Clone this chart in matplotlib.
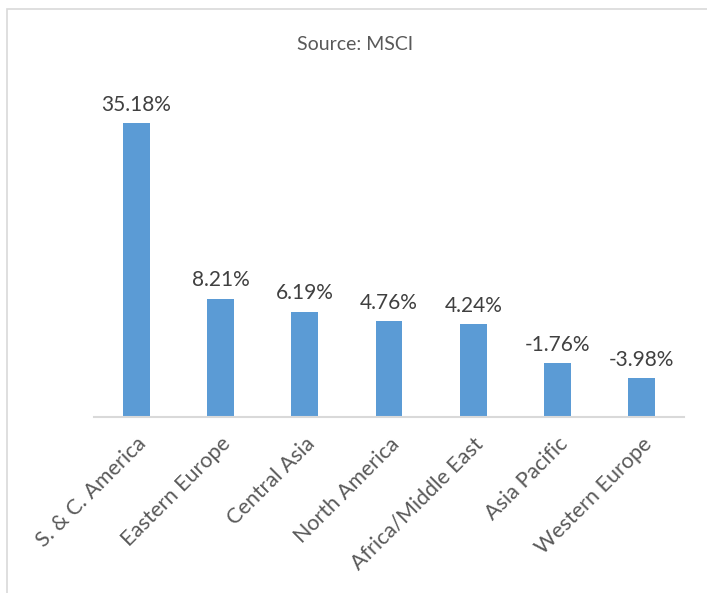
import matplotlib.pyplot as plt
import matplotlib.patches as mpatches
import numpy as np

regions = ["S. & C. America", "Eastern Europe", "Central Asia", "North America",
           "Africa/Middle East", "Asia Pacific", "Western Europe"]
returns = [35.18, 8.21, 6.19, 4.76, 4.24, -1.76, -3.98]
labels = ["35.18%", "8.21%", "6.19%", "4.76%", "4.24%", "-1.76%", "-3.98%"]

ymin = -10
ymax = 40
grey = "#595959"

fig = plt.figure(figsize=(7.07, 5.93), dpi=100)
ax = fig.add_axes([94 / 707, 1 - 417 / 593, 590 / 707, (417 - 92) / 593])

x = np.arange(len(regions))
vals = np.array(returns)
# excel style: bars grow from the axis minimum
ax.bar(x, vals - ymin, bottom=ymin, width=0.32, color="#5b9bd5")

for xi, v, lab in zip(x, vals, labels):
    ax.annotate(lab, (xi, v), xytext=(0, 6), textcoords="offset points",
                ha="center", va="bottom", fontsize=15, color="#404040",
                family="Lato")

ax.set_xlim(-0.5, len(regions) - 0.5)
ax.set_ylim(ymin, ymax)
ax.set_yticks([])
ax.set_xticks(x)
ax.set_xticklabels(regions, rotation=45, ha="right", rotation_mode="anchor",
                   fontsize=15.5, color=grey, family="Lato")
ax.tick_params(axis="x", length=0, pad=12)
for s in ["top", "right", "left"]:
    ax.spines[s].set_visible(False)
ax.spines["bottom"].set_color("#d9d9d9")
ax.spines["bottom"].set_linewidth(1.5)

fig.text(355 / 707, 1 - 45 / 593, "Source: MSCI", ha="center", va="center",
         fontsize=14, color=grey, family="Lato")

# outer chart border (cut off at right and bottom)
fig.patches.append(mpatches.Rectangle((7 / 707, -0.05), 1.0, 1 - 9 / 593 + 0.05,
                                      transform=fig.transFigure, fill=False,
                                      edgecolor="#d9d9d9", linewidth=1.2))

fig.savefig("out.png", dpi=100)
